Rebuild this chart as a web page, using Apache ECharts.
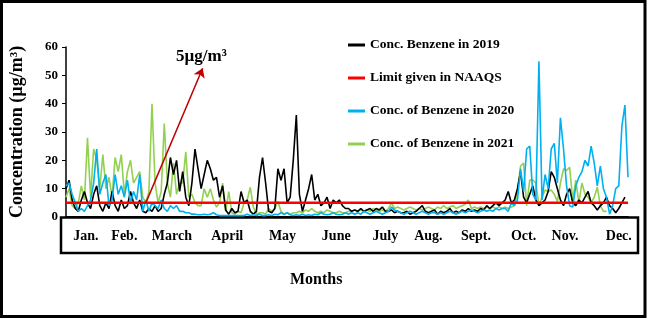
<!DOCTYPE html>
<html>
<head>
<meta charset="utf-8">
<script src="https://cdn.jsdelivr.net/npm/echarts@6/dist/echarts.min.js"></script>
<style>
  html, body { margin: 0; padding: 0; background: #fff; }
  #myCharts { width: 649px; height: 319px; }
</style>
</head>
<body>
<div id="myCharts"></div>
<script>
// one value every 2 days (x = 2 * index)
let conc2019 = [10,13,6,3,2,6,9,5,3,8,
  11,4,2,5,3,9,4,2,6,3,
  4,9,5,3,6,2,1.5,3,2,4,
  2,3,8,12,21,15,20,9,16,7,
  4,12,24,17,10,15,20,17,13,14,
  7,11,2.5,1,3,1.5,2,9,5,6,
  2,1,2,14,21,12,2,1.5,3,17,
  13,17,5,7,20,36,8,2,6,10,
  15,6,8,4,5,7,3,6,5,6,
  4,3,3,2,2.5,2,3,2,2.5,3,
  2,3,2.5,3.5,2,2,2.5,1.5,2,1.5,
  1.5,2,1,1.5,2,3,4,2,1.5,2,
  2.5,1,2,1.5,2,3,1.5,2,1.5,2.5,
  2,3,2,2.5,2,3,2.5,4,3,4,
  5,4,5,6,9,5,6,10,16,7,
  5,8,11,6,4,5,6,9,16,14,
  10,6,4,8,10,5,4,6,5,7,
  9,5,4,2.5,4,5,7,4,3,1.5,
  3,5,7];
let conc2020 = [11,12,8,5,2,3,2,4,6,12,
  24,8,12,15,4,6,15,8,11,7,
  13,5,9,6,15,2,6,2,5,4,
  3,6,3,2,4,3,4,2,2,1.5,
  1.5,1,1,0.8,0.8,1,0.8,1,1.5,0.8,
  0.5,0.5,0.5,0.5,0.5,0.5,0.5,0.5,0.5,1,
  0.5,0.8,0.5,1,0.5,0.5,0.8,0.5,1,0.8,
  1.5,1,1.5,0.8,0.5,0.8,0.5,1,0.5,0.8,
  0.5,1,0.8,1.5,1,0.8,1,1.5,1,0.8,
  1,1.5,1,1.5,1,1.5,1,2,1.5,1,
  1.5,2,1.5,1,1.5,2,3.5,2.5,2,1.5,
  1,1.5,2,1.5,1,1.5,2,1.5,1,1.5,
  1.5,1,1.5,1,1.5,2,1.5,1,1.5,2,
  1.5,2,2.5,2,1.5,2,2.5,2,2.5,2,
  3,2.5,3,3,2,5,4,6,17,9,
  24,25,8,6,55,6,15,10,24,26,
  12,35,24,11,4,3.5,11,14,16,20,
  18,25,19,11,18,10,7,1,4,10,
  11,32,39.5,14];
let conc2021 = [7,10,4,3,5,11,6,28,7,24,
  20,10,22,10,14,7,21,16,22,8,
  16,20,12,14,16,7,5,9,40,12,
  5,9,33,12,7,19,8,12,12,23,
  7,8,5,4,4,10,7,10,6,3.5,
  5,12,2,9,1.5,1,2,1.5,5,6,
  10.5,3.5,1,1.5,1.5,1,3,2,3,5.5,
  2,1,1.5,1,1.5,1.5,2,1.5,2.5,2,
  3,2,1.5,2,1.5,2.5,2,1.5,1.5,2,
  1.5,1.5,2,2,2.5,2,2.5,2,2.5,2,
  3,2.5,2,2.5,2,3,5,3,3.5,3,
  2.5,3,3.5,3,2.5,3,2.5,3,3.5,3,
  2.5,3.5,3,4,3,3.5,4,3,3.5,4,
  4.5,6,3,3.5,3,3.5,3,3.5,3,3.5,
  3,3.5,3,3.5,3,3.5,4,9,18,19,
  4,13,13,12,4,7,9.5,9,9.5,8,
  5.5,12,17,16.5,17.5,6,13,5,12,8,
  7,5,7,10.5,4,2,2];
let limitValue = 5;
let monthNames = ["Jan.", "Feb.", "March", "April", "May", "June", "July", "Aug.", "Sept.", "Oct.", "Nov.", "Dec."];
let monthPos = [13, 38, 69, 105, 141, 176, 208, 236, 267, 298, 325, 360];
let arrowFrom = [52, 5];
let arrowTo = [89, 52.5];

const toXY = (arr) => arr.map((v, i) => [i * 2, v]);
const serif = "Liberation Serif";

let myChart = echarts.init(document.getElementById("myCharts"));
let option = {
  animation: false,
  backgroundColor: "#fff",
  grid: { left: 61, right: 21, top: 47, bottom: 102 },
  legend: {
    orient: "vertical",
    left: 348,
    top: 38,
    padding: 0,
    icon: "rect",
    itemWidth: 17,
    itemHeight: 3,
    itemGap: 19,
    textStyle: { fontFamily: serif, fontWeight: "bold", fontSize: 13.5, color: "#000", lineHeight: 14 },
    data: ["Conc. Benzene in 2019", "Limit given in NAAQS", "Conc. of Benzene in 2020", "Conc. of Benzene in 2021"],
  },
  xAxis: {
    type: "value",
    min: 0,
    max: 366,
    axisLine: { show: true, lineStyle: { color: "#000", width: 2 } },
    axisTick: { show: false },
    splitLine: { show: false },
    axisLabel: {
      customValues: monthPos,
      margin: 12,
      fontFamily: serif,
      fontWeight: "bold",
      fontSize: 14,
      color: "#000",
      formatter: (val) => monthNames[monthPos.indexOf(val)] || "",
    },
  },
  yAxis: {
    type: "value",
    min: 0,
    max: 60,
    interval: 10,
    name: "Concentration (µg/m³)",
    nameLocation: "middle",
    nameGap: 40,
    nameTextStyle: { fontFamily: serif, fontWeight: "bold", fontSize: 18, color: "#000" },
    axisLine: { show: true, lineStyle: { color: "#000", width: 1.5 } },
    axisTick: { show: true, length: 4, lineStyle: { color: "#000" } },
    splitLine: { show: false },
    axisLabel: { margin: 8, fontFamily: serif, fontWeight: "bold", fontSize: 13, color: "#000" },
  },
  graphic: [
    { type: "rect", shape: { x: 1.5, y: 1.5, width: 643.5, height: 315 }, style: { fill: "none", stroke: "#000", lineWidth: 3 } },
    { type: "rect", shape: { x: 61, y: 217.5, width: 577, height: 35.5 }, style: { fill: "none", stroke: "#000", lineWidth: 2.5 } },
    { type: "text", left: 290, top: 272, style: { text: "Months", font: "bold 16px " + serif, fill: "#000" } },
    { type: "text", left: 176, top: 48, style: { text: "5µg/m³", font: "bold 17px " + serif, fill: "#000" } },
  ],
  series: [
    {
      name: "Conc. of Benzene in 2021",
      type: "line",
      showSymbol: false,
      color: "#92d050",
      lineStyle: { width: 1.6 },
      data: toXY(conc2021),
    },
    {
      name: "Conc. Benzene in 2019",
      type: "line",
      showSymbol: false,
      color: "#000000",
      lineStyle: { width: 1.6 },
      data: toXY(conc2019),
    },
    {
      name: "Conc. of Benzene in 2020",
      type: "line",
      showSymbol: false,
      color: "#00b0f0",
      lineStyle: { width: 1.6 },
      data: toXY(conc2020),
    },
    {
      name: "Limit given in NAAQS",
      type: "line",
      showSymbol: false,
      color: "#ff0000",
      lineStyle: { width: 2.5 },
      data: [[0, limitValue], [366, limitValue]],
      markLine: {
        silent: true,
        symbol: ["none", "arrow"],
        symbolSize: 9,
        label: { show: false },
        lineStyle: { color: "#c00000", width: 1.5, type: "solid" },
        data: [[{ coord: arrowFrom }, { coord: arrowTo }]],
      },
    },
  ],
};
myChart.setOption(option);
</script>
</body>
</html>
